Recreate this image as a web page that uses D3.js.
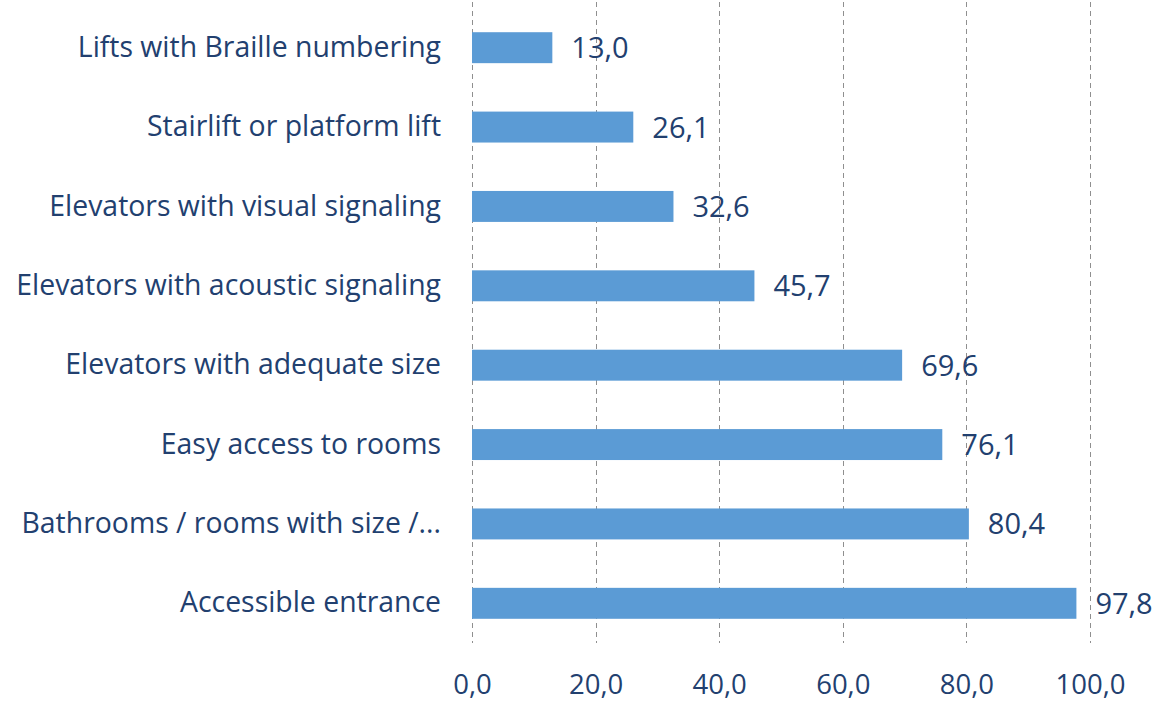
<!DOCTYPE html>
<html>
<head>
<meta charset="utf-8">
<script src="https://cdn.jsdelivr.net/npm/d3@7"></script>
<style>
  html, body { margin: 0; padding: 0; background: #fff; }
  svg { display: block; }
  text { font-family: "Open Sans", "Noto Sans", sans-serif; fill: #22406f; }
</style>
</head>
<body>
<svg id="chart" width="1159" height="705"></svg>
<script>
// Accessibility features (% of establishments)
const categories = [
  "Lifts with Braille numbering",
  "Stairlift or platform lift",
  "Elevators with visual signaling",
  "Elevators with acoustic signaling",
  "Elevators with adequate size",
  "Easy access to rooms",
  "Bathrooms / rooms with size /...",
  "Accessible entrance"
];
const values = [13.0, 26.1, 32.6, 45.7, 69.6, 76.1, 80.4, 97.8];
const tickValues = [0, 20, 40, 60, 80, 100];

const svg = d3.select("#chart");
const fmt = v => v.toFixed(1).replace(".", ",");

const x = d3.scaleLinear().domain([0, 100]).range([472, 1090]);
const y = d3.scaleBand().domain(categories).range([8, 643])
  .paddingInner(0.61).paddingOuter(0.305);

// vertical dashed gridlines
svg.append("g").selectAll("line").data(tickValues).join("line")
  .attr("x1", d => Math.round(x(d)) + 0.5).attr("x2", d => Math.round(x(d)) + 0.5)
  .attr("y1", 2).attr("y2", 643)
  .attr("stroke", "#8f8f8f").attr("stroke-width", 1)
  .attr("stroke-dasharray", "5,4");

// bars
svg.append("g").selectAll("rect").data(values).join("rect")
  .attr("x", x(0))
  .attr("y", (d, i) => y(categories[i]))
  .attr("width", d => x(d) - x(0))
  .attr("height", y.bandwidth())
  .attr("fill", "#5b9bd5");

// value labels
svg.append("g").selectAll("text").data(values).join("text")
  .attr("x", d => x(d) + 19)
  .attr("y", (d, i) => y(categories[i]) + y.bandwidth() / 2)
  .attr("dy", "0.36em")
  .attr("font-size", 29)
  .text(fmt);

// category axis
const yAxis = svg.append("g").attr("transform", `translate(${x(0)},0)`)
  .call(d3.axisLeft(y).tickSize(0).tickPadding(31));
yAxis.select(".domain").remove();
yAxis.selectAll("text").attr("font-size", 28.4).attr("fill", "#22406f")
  .attr("font-family", '"Open Sans", sans-serif');

// value axis
const xAxis = svg.append("g").attr("transform", "translate(0,643)")
  .call(d3.axisBottom(x).tickValues(tickValues).tickSize(0).tickPadding(31).tickFormat(fmt));
xAxis.select(".domain").remove();
xAxis.selectAll("text").attr("font-size", 27.5).attr("fill", "#22406f")
  .attr("font-family", '"Open Sans", sans-serif');
</script>
</body>
</html>
